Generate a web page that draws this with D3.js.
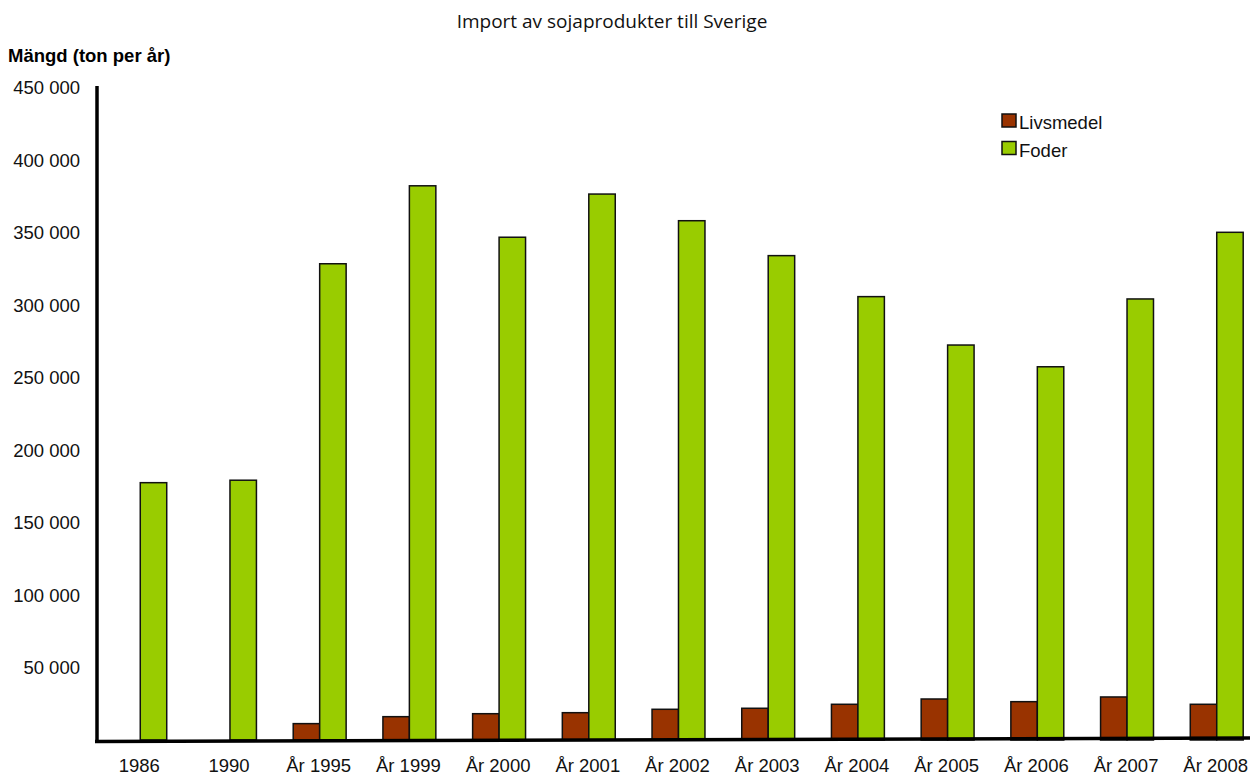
<!DOCTYPE html>
<html>
<head>
<meta charset="utf-8">
<script src="https://cdn.jsdelivr.net/npm/d3@7"></script>
<style>
  html, body { margin: 0; padding: 0; background: #fff; }
  svg { display: block; }
</style>
</head>
<body>
<svg id="chart" width="1250" height="774"></svg>
<script>
const categories = ["1986", "1990", "År 1995", "År 1999", "År 2000", "År 2001", "År 2002", "År 2003", "År 2004", "År 2005", "År 2006", "År 2007", "År 2008"];
const seriesNames = ["Livsmedel", "Foder"];
const livsmedel = [0, 0, 11300, 16100, 18150, 18850, 21200, 21900, 24650, 28300, 26450, 29700, 24650];
const foder = [177600, 179300, 328700, 382500, 347000, 376800, 358400, 334300, 306000, 272600, 257600, 304400, 350400];
const yTicks = [50000, 100000, 150000, 200000, 250000, 300000, 350000, 400000, 450000];
const colors = ["#993300", "#99CC00"];
const titleText = "Import av sojaprodukter till Sverige";
const yAxisTitle = "Mängd (ton per år)";

const svg = d3.select("#chart");
const font = "'Liberation Sans', Arial, sans-serif";
const fs = 18.5;

const x = d3.scaleBand().domain(categories).range([113.8, 1243.2]).paddingInner(0.41).paddingOuter(0);
const xs = d3.scaleBand().domain(seriesNames).range([0, x.bandwidth()]).padding(0);
const y = d3.scaleLinear().domain([0, 450000]).range([740, 88]);

const data = categories.map((c, i) => ({ cat: c, values: [livsmedel[i], foder[i]] }));

// title
svg.append("text")
  .attr("x", 612).attr("y", 28)
  .attr("text-anchor", "middle")
  .attr("font-family", "'Open Sans', 'Noto Sans', sans-serif")
  .attr("font-size", 19)
  .attr("fill", "#111")
  .text(titleText);

// y axis title
svg.append("text")
  .attr("x", 8).attr("y", 62)
  .attr("font-family", font)
  .attr("font-size", fs)
  .attr("font-weight", "bold")
  .attr("fill", "#000")
  .text(yAxisTitle);

// y tick labels
const fmt = v => d3.format(",")(v).replace(/,/g, " ");
svg.append("g").selectAll("text").data(yTicks).join("text")
  .attr("x", 80).attr("y", d => y(d))
  .attr("dy", "0.35em")
  .attr("text-anchor", "end")
  .attr("font-family", font)
  .attr("font-size", fs)
  .attr("fill", "#111")
  .text(fmt);

// bars
const groups = svg.append("g").selectAll("g").data(data).join("g")
  .attr("transform", d => `translate(${x(d.cat)},0)`);
groups.selectAll("rect")
  .data(d => d.values.map((v, j) => ({ name: seriesNames[j], v, j })).filter(e => e.v > 0))
  .join("rect")
  .attr("x", e => xs(e.name))
  .attr("y", e => y(e.v))
  .attr("width", xs.bandwidth())
  .attr("height", e => y(0) - y(e.v))
  .attr("fill", e => colors[e.j])
  .attr("stroke", "#111")
  .attr("stroke-width", 1.5);

// axes lines
svg.append("line")
  .attr("x1", 97).attr("x2", 97)
  .attr("y1", y(450000) - 2).attr("y2", y(0) + 1)
  .attr("stroke", "#000").attr("stroke-width", 3.5);
svg.append("line")
  .attr("x1", 95).attr("x2", 1250)
  .attr("y1", y(0) + 1.5).attr("y2", y(0) - 2)
  .attr("stroke", "#000").attr("stroke-width", 3.5);

// x labels
svg.append("g").selectAll("text").data(categories).join("text")
  .attr("x", d => x(d) + x.bandwidth() / 2 - 1)
  .attr("y", 771.5)
  .attr("text-anchor", "middle")
  .attr("font-family", font)
  .attr("font-size", fs)
  .attr("fill", "#111")
  .text(d => d);

// legend
const legend = svg.append("g").attr("transform", "translate(1002,114)");
const li = legend.selectAll("g").data(seriesNames).join("g")
  .attr("transform", (d, i) => `translate(0,${i * 27.5})`);
li.append("rect")
  .attr("width", 14).attr("height", 13)
  .attr("fill", (d, i) => colors[i])
  .attr("stroke", "#111").attr("stroke-width", 1.5);
li.append("text")
  .attr("x", 17).attr("y", 15.3)
  .attr("font-family", font)
  .attr("font-size", fs)
  .attr("fill", "#111")
  .text(d => d);
</script>
</body>
</html>
